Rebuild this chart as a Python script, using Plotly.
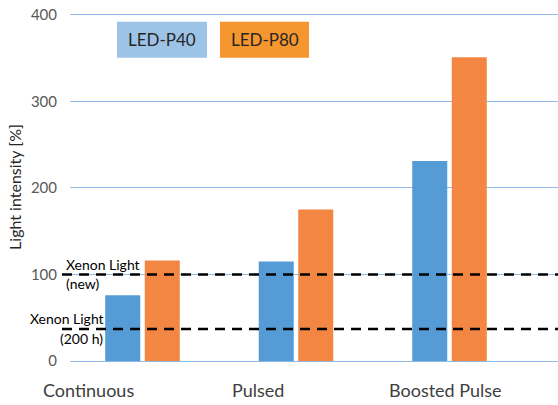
import plotly.graph_objects as go

categories = ["Continuous", "Pulsed", "Boosted Pulse"]
series_names = ["LED-P40", "LED-P80"]
p40_values = [76, 115, 231]
p80_values = [116, 175, 351]
xenon_new = 100
xenon_200h = 37
y_ticks = [0, 100, 200, 300, 400]
y_top = 402

W, H = 558, 405
# plot area in window pixel coords (body margin removed via post_script)
PL, PR, PB = 70, 558, 361
unit = (361 - 15) / 400.0
PT = PB - y_top * unit
L, T = PL, PT
R = W - PR
B = H - PB
pw, ph = PR - PL, PB - PT

def px(x):
    return (x - PL) / pw

def py(y):
    return (PB - y) / ph

FONT = "Lato"
blue = "#559BD6"
orange = "#F28642"

fig = go.Figure()
fig.add_trace(go.Bar(x=categories, y=p40_values, name=series_names[0],
                     marker=dict(color=blue, line=dict(width=0))))
fig.add_trace(go.Bar(x=categories, y=p80_values, name=series_names[1],
                     marker=dict(color=orange, line=dict(width=0))))

for yv in (xenon_new, xenon_200h):
    fig.add_shape(type="line", xref="paper", yref="y", x0=px(62), x1=1,
                  y0=yv, y1=yv, line=dict(color="black", width=2.5, dash="10px,7px"),
                  layer="above")

anns = [
    ("Xenon Light", 64, 265),
    ("(new)", 64, 284),
    ("Xenon Light", 28, 319),
    ("(200 h)", 58, 339),
]
for txt, x, y in anns:
    fig.add_annotation(text=txt, xref="paper", yref="paper", x=px(x), y=py(y),
                       xanchor="left", yanchor="middle", showarrow=False,
                       font=dict(family=FONT, size=14, color="black"))

# category labels (placed as text boxes in the original)
label_centers = [88, 258, 445]
for cat, cx in zip(categories, label_centers):
    fig.add_annotation(text=cat, xref="paper", yref="paper", x=px(cx), y=py(390),
                       xanchor="center", yanchor="middle", showarrow=False,
                       font=dict(family=FONT, size=18, color="#404040"))

# legend boxes
boxes = [(series_names[0], 117, 207, "#9DC3E6"), (series_names[1], 220, 309, "#F5962F")]
for name, x0, x1, col in boxes:
    fig.add_shape(type="rect", xref="paper", yref="paper", x0=px(x0), x1=px(x1),
                  y0=py(58), y1=py(22), fillcolor=col, line=dict(width=0))
    fig.add_annotation(text=name, xref="paper", yref="paper", x=px((x0 + x1) / 2),
                       y=py(40), xanchor="center", yanchor="middle", showarrow=False,
                       font=dict(family=FONT, size=17, color="#262626"))

band = 153.5
c0 = 142.5
xr0 = -(c0 - PL) / band
xr1 = xr0 + pw / band

fig.update_layout(
    width=W, height=H,
    margin=dict(l=L, r=R, t=T, b=B, autoexpand=False),
    plot_bgcolor="white", paper_bgcolor="white",
    barmode="group", bargap=0.485, bargroupgap=0.114,
    showlegend=False,
    font=dict(family=FONT),
    xaxis=dict(type="category", range=[xr0, xr1], showgrid=False, zeroline=False,
               showline=False, ticks="", showticklabels=False, automargin=False),
    yaxis=dict(range=[0, y_top], tickvals=y_ticks, showgrid=True, gridcolor="#8FBCE6",
               gridwidth=1.2, zeroline=True, zerolinecolor="#8FBCE6", zerolinewidth=1.2,
               showline=False, ticks="", tickfont=dict(size=15, color="#595959"),
               ticklabelstandoff=12, ticklabeloverflow="allow", automargin=False,
               title=dict(text="Light intensity [%]", font=dict(size=16, color="#262626"),
                          standoff=5)),
)

fig.write_html("out.html", config={"displayModeBar": False},
               post_script="document.body.style.margin='0';document.body.style.overflow='hidden';")
